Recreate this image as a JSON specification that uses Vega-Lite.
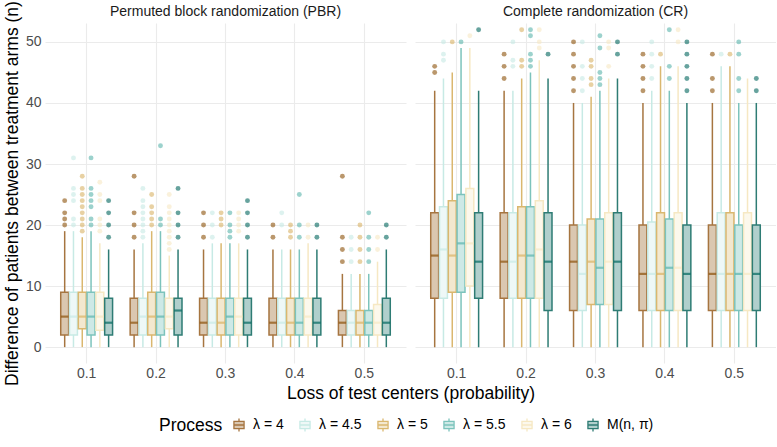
{
  "$schema": "https://vega.github.io/schema/vega-lite/v6.json",
  "background": "white",
  "padding": {"left": 3, "top": 0, "right": 0, "bottom": 0},
  "config": {
    "font": "Liberation Sans",
    "view": {"stroke": null},
    "axis": {"domain": false, "ticks": false, "labelColor": "#4d4d4d", "labelFontSize": 14, "titleFontSize": 17.5, "titleFontWeight": "normal", "titleColor": "#000000", "gridColor": "#ebebeb"},
    "header": {"labelFontSize": 14, "labelColor": "#1a1a1a", "titleFontSize": 17.5, "titleFontWeight": "normal", "titleColor": "#000000"},
    "facet": {"spacing": 9},
    "legend": {"titleFontSize": 17.5, "titleFontWeight": "normal", "titleColor": "#000000", "labelFontSize": 14, "labelColor": "#000000"}
  },
  "data": {"values": [
    {"d":"PBR","p":"0.1","g":"λ = 4","lo":0,"q1":2,"m":5,"q3":9,"hi":19},
    {"d":"PBR","p":"0.1","g":"λ = 4.5","lo":0,"q1":2,"m":5,"q3":9,"hi":19},
    {"d":"PBR","p":"0.1","g":"λ = 5","lo":0,"q1":3,"m":5,"q3":9,"hi":18},
    {"d":"PBR","p":"0.1","g":"λ = 5.5","lo":0,"q1":2,"m":5,"q3":9,"hi":19},
    {"d":"PBR","p":"0.1","g":"λ = 6","lo":0,"q1":2.75,"m":5,"q3":9,"hi":17},
    {"d":"PBR","p":"0.1","g":"M(n, π)","lo":0,"q1":2,"m":4,"q3":8,"hi":16},
    {"d":"PBR","p":"0.2","g":"λ = 4","lo":0,"q1":2,"m":4,"q3":8,"hi":16},
    {"d":"PBR","p":"0.2","g":"λ = 4.5","lo":0,"q1":2,"m":5,"q3":8,"hi":17},
    {"d":"PBR","p":"0.2","g":"λ = 5","lo":0,"q1":2,"m":5,"q3":9,"hi":19},
    {"d":"PBR","p":"0.2","g":"λ = 5.5","lo":0,"q1":2,"m":5,"q3":9,"hi":19},
    {"d":"PBR","p":"0.2","g":"λ = 6","lo":0,"q1":3,"m":5,"q3":8,"hi":15},
    {"d":"PBR","p":"0.2","g":"M(n, π)","lo":0,"q1":2,"m":6,"q3":8,"hi":16},
    {"d":"PBR","p":"0.3","g":"λ = 4","lo":0,"q1":2,"m":4,"q3":8,"hi":16},
    {"d":"PBR","p":"0.3","g":"λ = 4.5","lo":0,"q1":2,"m":4,"q3":8,"hi":17},
    {"d":"PBR","p":"0.3","g":"λ = 5","lo":0,"q1":2,"m":4,"q3":8,"hi":17},
    {"d":"PBR","p":"0.3","g":"λ = 5.5","lo":0,"q1":2,"m":5,"q3":8,"hi":17},
    {"d":"PBR","p":"0.3","g":"λ = 6","lo":0,"q1":2,"m":5,"q3":8,"hi":17},
    {"d":"PBR","p":"0.3","g":"M(n, π)","lo":0,"q1":2,"m":4,"q3":8,"hi":16},
    {"d":"PBR","p":"0.4","g":"λ = 4","lo":0,"q1":2,"m":4,"q3":8,"hi":16},
    {"d":"PBR","p":"0.4","g":"λ = 4.5","lo":0,"q1":2,"m":4,"q3":8,"hi":16},
    {"d":"PBR","p":"0.4","g":"λ = 5","lo":0,"q1":2,"m":4,"q3":8,"hi":16},
    {"d":"PBR","p":"0.4","g":"λ = 5.5","lo":0,"q1":2,"m":4,"q3":8,"hi":16},
    {"d":"PBR","p":"0.4","g":"λ = 6","lo":0,"q1":2,"m":5,"q3":8,"hi":17},
    {"d":"PBR","p":"0.4","g":"M(n, π)","lo":0,"q1":2,"m":4,"q3":8,"hi":16},
    {"d":"PBR","p":"0.5","g":"λ = 4","lo":0,"q1":2,"m":4,"q3":6,"hi":12},
    {"d":"PBR","p":"0.5","g":"λ = 4.5","lo":0,"q1":2,"m":4,"q3":6,"hi":12},
    {"d":"PBR","p":"0.5","g":"λ = 5","lo":0,"q1":2,"m":4,"q3":6,"hi":12},
    {"d":"PBR","p":"0.5","g":"λ = 5.5","lo":0,"q1":2,"m":4,"q3":6,"hi":12},
    {"d":"PBR","p":"0.5","g":"λ = 6","lo":0,"q1":2,"m":4,"q3":7,"hi":14},
    {"d":"PBR","p":"0.5","g":"M(n, π)","lo":0,"q1":2,"m":4,"q3":8,"hi":16},
    {"d":"CR","p":"0.1","g":"λ = 4","lo":0,"q1":8,"m":15,"q3":22,"hi":42},
    {"d":"CR","p":"0.1","g":"λ = 4.5","lo":0,"q1":8,"m":16,"q3":23,"hi":44},
    {"d":"CR","p":"0.1","g":"λ = 5","lo":0,"q1":9,"m":15,"q3":24,"hi":45},
    {"d":"CR","p":"0.1","g":"λ = 5.5","lo":0,"q1":9,"m":17,"q3":25,"hi":49},
    {"d":"CR","p":"0.1","g":"λ = 6","lo":0,"q1":10,"m":17,"q3":26,"hi":49},
    {"d":"CR","p":"0.1","g":"M(n, π)","lo":0,"q1":8,"m":14,"q3":22,"hi":42},
    {"d":"CR","p":"0.2","g":"λ = 4","lo":0,"q1":8,"m":14,"q3":22,"hi":42},
    {"d":"CR","p":"0.2","g":"λ = 4.5","lo":0,"q1":8,"m":14,"q3":22,"hi":42},
    {"d":"CR","p":"0.2","g":"λ = 5","lo":0,"q1":8,"m":15,"q3":23,"hi":44},
    {"d":"CR","p":"0.2","g":"λ = 5.5","lo":0,"q1":8,"m":15,"q3":23,"hi":45},
    {"d":"CR","p":"0.2","g":"λ = 6","lo":0,"q1":8,"m":16,"q3":24,"hi":47},
    {"d":"CR","p":"0.2","g":"M(n, π)","lo":0,"q1":6,"m":14,"q3":22,"hi":44},
    {"d":"CR","p":"0.3","g":"λ = 4","lo":0,"q1":6,"m":14,"q3":20,"hi":40},
    {"d":"CR","p":"0.3","g":"λ = 4.5","lo":0,"q1":6,"m":12,"q3":20,"hi":40},
    {"d":"CR","p":"0.3","g":"λ = 5","lo":0,"q1":7,"m":14,"q3":21,"hi":41},
    {"d":"CR","p":"0.3","g":"λ = 5.5","lo":0,"q1":7,"m":13,"q3":21,"hi":42},
    {"d":"CR","p":"0.3","g":"λ = 6","lo":0,"q1":7,"m":14,"q3":22,"hi":44},
    {"d":"CR","p":"0.3","g":"M(n, π)","lo":0,"q1":6,"m":14,"q3":22,"hi":44},
    {"d":"CR","p":"0.4","g":"λ = 4","lo":0,"q1":6,"m":12,"q3":20,"hi":40},
    {"d":"CR","p":"0.4","g":"λ = 4.5","lo":0,"q1":6,"m":12,"q3":20.5,"hi":42},
    {"d":"CR","p":"0.4","g":"λ = 5","lo":0,"q1":6,"m":12,"q3":22,"hi":46},
    {"d":"CR","p":"0.4","g":"λ = 5.5","lo":0,"q1":6,"m":13,"q3":21,"hi":42},
    {"d":"CR","p":"0.4","g":"λ = 6","lo":0,"q1":6,"m":13,"q3":22,"hi":46},
    {"d":"CR","p":"0.4","g":"M(n, π)","lo":0,"q1":6,"m":12,"q3":20,"hi":40},
    {"d":"CR","p":"0.5","g":"λ = 4","lo":0,"q1":6,"m":12,"q3":20,"hi":40},
    {"d":"CR","p":"0.5","g":"λ = 4.5","lo":0,"q1":6,"m":12,"q3":22,"hi":46},
    {"d":"CR","p":"0.5","g":"λ = 5","lo":0,"q1":6,"m":12,"q3":22,"hi":46},
    {"d":"CR","p":"0.5","g":"λ = 5.5","lo":0,"q1":6,"m":12,"q3":20,"hi":40},
    {"d":"CR","p":"0.5","g":"λ = 6","lo":0,"q1":6,"m":12,"q3":22,"hi":44},
    {"d":"CR","p":"0.5","g":"M(n, π)","lo":0,"q1":6,"m":12,"q3":20,"hi":40},

    {"d":"PBR","p":"0.1","g":"λ = 4","o":20},{"d":"PBR","p":"0.1","g":"λ = 4","o":21},{"d":"PBR","p":"0.1","g":"λ = 4","o":22},{"d":"PBR","p":"0.1","g":"λ = 4","o":24},
    {"d":"PBR","p":"0.1","g":"λ = 4.5","o":20},{"d":"PBR","p":"0.1","g":"λ = 4.5","o":21},{"d":"PBR","p":"0.1","g":"λ = 4.5","o":24},{"d":"PBR","p":"0.1","g":"λ = 4.5","o":25},{"d":"PBR","p":"0.1","g":"λ = 4.5","o":26},{"d":"PBR","p":"0.1","g":"λ = 4.5","o":31},
    {"d":"PBR","p":"0.1","g":"λ = 5","o":19},{"d":"PBR","p":"0.1","g":"λ = 5","o":20},{"d":"PBR","p":"0.1","g":"λ = 5","o":21},{"d":"PBR","p":"0.1","g":"λ = 5","o":22},{"d":"PBR","p":"0.1","g":"λ = 5","o":23},{"d":"PBR","p":"0.1","g":"λ = 5","o":24},{"d":"PBR","p":"0.1","g":"λ = 5","o":25},{"d":"PBR","p":"0.1","g":"λ = 5","o":26},{"d":"PBR","p":"0.1","g":"λ = 5","o":28},
    {"d":"PBR","p":"0.1","g":"λ = 5.5","o":20},{"d":"PBR","p":"0.1","g":"λ = 5.5","o":21},{"d":"PBR","p":"0.1","g":"λ = 5.5","o":23},{"d":"PBR","p":"0.1","g":"λ = 5.5","o":24},{"d":"PBR","p":"0.1","g":"λ = 5.5","o":25},{"d":"PBR","p":"0.1","g":"λ = 5.5","o":26},{"d":"PBR","p":"0.1","g":"λ = 5.5","o":31},
    {"d":"PBR","p":"0.1","g":"λ = 6","o":19},{"d":"PBR","p":"0.1","g":"λ = 6","o":20},{"d":"PBR","p":"0.1","g":"λ = 6","o":21},{"d":"PBR","p":"0.1","g":"λ = 6","o":24},{"d":"PBR","p":"0.1","g":"λ = 6","o":25},{"d":"PBR","p":"0.1","g":"λ = 6","o":27},
    {"d":"PBR","p":"0.1","g":"M(n, π)","o":18},{"d":"PBR","p":"0.1","g":"M(n, π)","o":20},{"d":"PBR","p":"0.1","g":"M(n, π)","o":22},{"d":"PBR","p":"0.1","g":"M(n, π)","o":24},
    {"d":"PBR","p":"0.2","g":"λ = 4","o":18},{"d":"PBR","p":"0.2","g":"λ = 4","o":20},{"d":"PBR","p":"0.2","g":"λ = 4","o":22},{"d":"PBR","p":"0.2","g":"λ = 4","o":28},
    {"d":"PBR","p":"0.2","g":"λ = 4.5","o":18},{"d":"PBR","p":"0.2","g":"λ = 4.5","o":19},{"d":"PBR","p":"0.2","g":"λ = 4.5","o":20},{"d":"PBR","p":"0.2","g":"λ = 4.5","o":21},{"d":"PBR","p":"0.2","g":"λ = 4.5","o":22},{"d":"PBR","p":"0.2","g":"λ = 4.5","o":23},{"d":"PBR","p":"0.2","g":"λ = 4.5","o":24},{"d":"PBR","p":"0.2","g":"λ = 4.5","o":26},
    {"d":"PBR","p":"0.2","g":"λ = 5","o":20},{"d":"PBR","p":"0.2","g":"λ = 5","o":21},{"d":"PBR","p":"0.2","g":"λ = 5","o":22},{"d":"PBR","p":"0.2","g":"λ = 5","o":23},{"d":"PBR","p":"0.2","g":"λ = 5","o":25},
    {"d":"PBR","p":"0.2","g":"λ = 5.5","o":20},{"d":"PBR","p":"0.2","g":"λ = 5.5","o":21},{"d":"PBR","p":"0.2","g":"λ = 5.5","o":33},
    {"d":"PBR","p":"0.2","g":"λ = 6","o":16},{"d":"PBR","p":"0.2","g":"λ = 6","o":17},{"d":"PBR","p":"0.2","g":"λ = 6","o":18},{"d":"PBR","p":"0.2","g":"λ = 6","o":19},{"d":"PBR","p":"0.2","g":"λ = 6","o":20},{"d":"PBR","p":"0.2","g":"λ = 6","o":21},{"d":"PBR","p":"0.2","g":"λ = 6","o":22},{"d":"PBR","p":"0.2","g":"λ = 6","o":23},{"d":"PBR","p":"0.2","g":"λ = 6","o":25},
    {"d":"PBR","p":"0.2","g":"M(n, π)","o":18},{"d":"PBR","p":"0.2","g":"M(n, π)","o":20},{"d":"PBR","p":"0.2","g":"M(n, π)","o":22},{"d":"PBR","p":"0.2","g":"M(n, π)","o":26},
    {"d":"PBR","p":"0.3","g":"λ = 4","o":18},{"d":"PBR","p":"0.3","g":"λ = 4","o":20},{"d":"PBR","p":"0.3","g":"λ = 4","o":22},
    {"d":"PBR","p":"0.3","g":"λ = 4.5","o":18},{"d":"PBR","p":"0.3","g":"λ = 4.5","o":20},{"d":"PBR","p":"0.3","g":"λ = 4.5","o":22},
    {"d":"PBR","p":"0.3","g":"λ = 5","o":20},{"d":"PBR","p":"0.3","g":"λ = 5","o":21},{"d":"PBR","p":"0.3","g":"λ = 5","o":22},
    {"d":"PBR","p":"0.3","g":"λ = 5.5","o":18},{"d":"PBR","p":"0.3","g":"λ = 5.5","o":19},{"d":"PBR","p":"0.3","g":"λ = 5.5","o":20},{"d":"PBR","p":"0.3","g":"λ = 5.5","o":22},
    {"d":"PBR","p":"0.3","g":"λ = 6","o":19},{"d":"PBR","p":"0.3","g":"λ = 6","o":20},{"d":"PBR","p":"0.3","g":"λ = 6","o":21},{"d":"PBR","p":"0.3","g":"λ = 6","o":22},
    {"d":"PBR","p":"0.3","g":"M(n, π)","o":18},{"d":"PBR","p":"0.3","g":"M(n, π)","o":20},{"d":"PBR","p":"0.3","g":"M(n, π)","o":22},{"d":"PBR","p":"0.3","g":"M(n, π)","o":24},
    {"d":"PBR","p":"0.4","g":"λ = 4","o":18},{"d":"PBR","p":"0.4","g":"λ = 4","o":20},
    {"d":"PBR","p":"0.4","g":"λ = 4.5","o":20},{"d":"PBR","p":"0.4","g":"λ = 4.5","o":22},
    {"d":"PBR","p":"0.4","g":"λ = 5","o":18},{"d":"PBR","p":"0.4","g":"λ = 5","o":19},{"d":"PBR","p":"0.4","g":"λ = 5","o":20},
    {"d":"PBR","p":"0.4","g":"λ = 5.5","o":18},{"d":"PBR","p":"0.4","g":"λ = 5.5","o":20},{"d":"PBR","p":"0.4","g":"λ = 5.5","o":25},
    {"d":"PBR","p":"0.4","g":"λ = 6","o":18},{"d":"PBR","p":"0.4","g":"λ = 6","o":20},
    {"d":"PBR","p":"0.4","g":"M(n, π)","o":18},{"d":"PBR","p":"0.4","g":"M(n, π)","o":20},
    {"d":"PBR","p":"0.5","g":"λ = 4","o":14},{"d":"PBR","p":"0.5","g":"λ = 4","o":16},{"d":"PBR","p":"0.5","g":"λ = 4","o":18},{"d":"PBR","p":"0.5","g":"λ = 4","o":28},
    {"d":"PBR","p":"0.5","g":"λ = 4.5","o":14},{"d":"PBR","p":"0.5","g":"λ = 4.5","o":16},{"d":"PBR","p":"0.5","g":"λ = 4.5","o":18},
    {"d":"PBR","p":"0.5","g":"λ = 5","o":14},{"d":"PBR","p":"0.5","g":"λ = 5","o":16},{"d":"PBR","p":"0.5","g":"λ = 5","o":18},{"d":"PBR","p":"0.5","g":"λ = 5","o":20},
    {"d":"PBR","p":"0.5","g":"λ = 5.5","o":14},{"d":"PBR","p":"0.5","g":"λ = 5.5","o":16},{"d":"PBR","p":"0.5","g":"λ = 5.5","o":18},{"d":"PBR","p":"0.5","g":"λ = 5.5","o":22},
    {"d":"PBR","p":"0.5","g":"λ = 6","o":16},{"d":"PBR","p":"0.5","g":"λ = 6","o":18},
    {"d":"PBR","p":"0.5","g":"M(n, π)","o":18},{"d":"PBR","p":"0.5","g":"M(n, π)","o":20},

    {"d":"CR","p":"0.1","g":"λ = 4","o":45},{"d":"CR","p":"0.1","g":"λ = 4","o":46},
    {"d":"CR","p":"0.1","g":"λ = 4.5","o":47},{"d":"CR","p":"0.1","g":"λ = 4.5","o":48},{"d":"CR","p":"0.1","g":"λ = 4.5","o":50},
    {"d":"CR","p":"0.1","g":"λ = 5","o":50},
    {"d":"CR","p":"0.1","g":"λ = 5.5","o":50},
    {"d":"CR","p":"0.1","g":"λ = 6","o":51},
    {"d":"CR","p":"0.1","g":"M(n, π)","o":52},
    {"d":"CR","p":"0.2","g":"λ = 4","o":44},{"d":"CR","p":"0.2","g":"λ = 4","o":46},{"d":"CR","p":"0.2","g":"λ = 4","o":48},
    {"d":"CR","p":"0.2","g":"λ = 4.5","o":46},{"d":"CR","p":"0.2","g":"λ = 4.5","o":47},{"d":"CR","p":"0.2","g":"λ = 4.5","o":50},
    {"d":"CR","p":"0.2","g":"λ = 5","o":46},{"d":"CR","p":"0.2","g":"λ = 5","o":47},{"d":"CR","p":"0.2","g":"λ = 5","o":52},
    {"d":"CR","p":"0.2","g":"λ = 5.5","o":46},{"d":"CR","p":"0.2","g":"λ = 5.5","o":47},{"d":"CR","p":"0.2","g":"λ = 5.5","o":48},{"d":"CR","p":"0.2","g":"λ = 5.5","o":51},{"d":"CR","p":"0.2","g":"λ = 5.5","o":52},
    {"d":"CR","p":"0.2","g":"λ = 6","o":49},{"d":"CR","p":"0.2","g":"λ = 6","o":50},{"d":"CR","p":"0.2","g":"λ = 6","o":52},
    {"d":"CR","p":"0.2","g":"M(n, π)","o":48},
    {"d":"CR","p":"0.3","g":"λ = 4","o":42},{"d":"CR","p":"0.3","g":"λ = 4","o":44},{"d":"CR","p":"0.3","g":"λ = 4","o":46},{"d":"CR","p":"0.3","g":"λ = 4","o":48},{"d":"CR","p":"0.3","g":"λ = 4","o":50},
    {"d":"CR","p":"0.3","g":"λ = 4.5","o":42},{"d":"CR","p":"0.3","g":"λ = 4.5","o":44},{"d":"CR","p":"0.3","g":"λ = 4.5","o":46},{"d":"CR","p":"0.3","g":"λ = 4.5","o":50},
    {"d":"CR","p":"0.3","g":"λ = 5","o":43},{"d":"CR","p":"0.3","g":"λ = 5","o":44},{"d":"CR","p":"0.3","g":"λ = 5","o":46},{"d":"CR","p":"0.3","g":"λ = 5","o":47},
    {"d":"CR","p":"0.3","g":"λ = 5.5","o":43},{"d":"CR","p":"0.3","g":"λ = 5.5","o":44},{"d":"CR","p":"0.3","g":"λ = 5.5","o":45},{"d":"CR","p":"0.3","g":"λ = 5.5","o":49},{"d":"CR","p":"0.3","g":"λ = 5.5","o":51},
    {"d":"CR","p":"0.3","g":"λ = 6","o":46},{"d":"CR","p":"0.3","g":"λ = 6","o":49},{"d":"CR","p":"0.3","g":"λ = 6","o":50},
    {"d":"CR","p":"0.3","g":"M(n, π)","o":48},{"d":"CR","p":"0.3","g":"M(n, π)","o":50},
    {"d":"CR","p":"0.4","g":"λ = 4","o":42},{"d":"CR","p":"0.4","g":"λ = 4","o":44},{"d":"CR","p":"0.4","g":"λ = 4","o":46},{"d":"CR","p":"0.4","g":"λ = 4","o":48},
    {"d":"CR","p":"0.4","g":"λ = 4.5","o":44},{"d":"CR","p":"0.4","g":"λ = 4.5","o":46},{"d":"CR","p":"0.4","g":"λ = 4.5","o":48},{"d":"CR","p":"0.4","g":"λ = 4.5","o":50},
    {"d":"CR","p":"0.4","g":"λ = 5","o":48},
    {"d":"CR","p":"0.4","g":"λ = 5.5","o":44},{"d":"CR","p":"0.4","g":"λ = 5.5","o":46},{"d":"CR","p":"0.4","g":"λ = 5.5","o":52},
    {"d":"CR","p":"0.4","g":"λ = 6","o":50},{"d":"CR","p":"0.4","g":"λ = 6","o":52},
    {"d":"CR","p":"0.4","g":"M(n, π)","o":42},{"d":"CR","p":"0.4","g":"M(n, π)","o":44},{"d":"CR","p":"0.4","g":"M(n, π)","o":46},{"d":"CR","p":"0.4","g":"M(n, π)","o":48},{"d":"CR","p":"0.4","g":"M(n, π)","o":50},
    {"d":"CR","p":"0.5","g":"λ = 4","o":42},{"d":"CR","p":"0.5","g":"λ = 4","o":44},{"d":"CR","p":"0.5","g":"λ = 4","o":48},
    {"d":"CR","p":"0.5","g":"λ = 4.5","o":48},
    {"d":"CR","p":"0.5","g":"λ = 5","o":48},
    {"d":"CR","p":"0.5","g":"λ = 5.5","o":42},{"d":"CR","p":"0.5","g":"λ = 5.5","o":44},{"d":"CR","p":"0.5","g":"λ = 5.5","o":48},{"d":"CR","p":"0.5","g":"λ = 5.5","o":50},
    {"d":"CR","p":"0.5","g":"M(n, π)","o":42},{"d":"CR","p":"0.5","g":"M(n, π)","o":44}
  ]},
  "facet": {
    "column": {
      "field": "d", "type": "nominal", "sort": ["PBR", "CR"], "title": "Loss of test centers (probability)",
      "header": {"labelExpr": "datum.value == 'PBR' ? 'Permuted block randomization (PBR)' : 'Complete randomization (CR)'", "labelPadding": 4, "titleOrient": "bottom", "titlePadding": -5}
    }
  },
  "spec": {
    "width": 361,
    "height": 340,
    "encoding": {
      "x": {"field": "p", "type": "nominal", "title": null,
        "scale": {"paddingInner": 0, "paddingOuter": 0.1},
        "axis": {"labelAngle": 0, "bandPosition": 0.5, "grid": true, "gridWidth": 1.1, "labelPadding": 3}},
      "xOffset": {"field": "g", "type": "nominal",
        "scale": {"domain": ["λ = 4", "λ = 4.5", "λ = 5", "λ = 5.5", "λ = 6", "M(n, π)"], "paddingInner": 0.1, "paddingOuter": 1.05}}
    },
    "layer": [
      {
        "transform": [{"filter": "isValid(datum.m)"}],
        "mark": {"type": "rule", "strokeWidth": 1.5},
        "encoding": {
          "y": {"field": "lo", "type": "quantitative", "title": "Difference of patients between treatment arms (n)",
            "scale": {"domain": [-2.6, 53.1], "nice": false, "zero": false},
            "axis": {"values": [0, 5, 10, 15, 20, 25, 30, 35, 40, 45, 50], "labelExpr": "datum.value % 10 === 0 ? datum.label : ''",
              "gridWidth": {"condition": {"test": "datum.value % 10 === 0", "value": 1.1}, "value": 0.55},
              "labelPadding": 4, "titlePadding": 4}},
          "y2": {"field": "hi"},
          "stroke": {"field": "g", "type": "nominal", "title": "Process",
            "scale": {"domain": ["λ = 4", "λ = 4.5", "λ = 5", "λ = 5.5", "λ = 6", "M(n, π)"], "range": ["#a67540", "#c7eae5", "#dab76f", "#7cc3bc", "#f6e8c3", "#2e7c74"]},
            "legend": {"orient": "none", "legendX": 114, "legendY": 394, "direction": "horizontal", "titleOrient": "left", "titlePadding": 8, "gridAlign": "none", "symbolType": "M-0.7,-0.5H0.7V0.5H-0.7Z M-0.7,0H0.7 M0,-0.5V-0.9 M0,0.5V0.9", "symbolSize": 210, "symbolStrokeWidth": 1.3, "columnPadding": 13, "labelOffset": 6}}
        }
      },
      {
        "transform": [{"filter": "isValid(datum.m)"}],
        "mark": {"type": "bar", "strokeWidth": 1.5},
        "encoding": {
          "y": {"field": "q1", "type": "quantitative", "title": "Difference of patients between treatment arms (n)"},
          "y2": {"field": "q3"},
          "fill": {"field": "g", "type": "nominal", "title": "Process",
            "scale": {"domain": ["λ = 4", "λ = 4.5", "λ = 5", "λ = 5.5", "λ = 6", "M(n, π)"], "range": ["#dac7b0", "#eef8f7", "#f3e8cf", "#cde9e6", "#fcf8ec", "#b0cfcc"]},
            "legend": {"orient": "none", "legendX": 114, "legendY": 394, "direction": "horizontal", "titleOrient": "left", "titlePadding": 8, "gridAlign": "none", "symbolType": "M-0.7,-0.5H0.7V0.5H-0.7Z M-0.7,0H0.7 M0,-0.5V-0.9 M0,0.5V0.9", "symbolSize": 210, "symbolStrokeWidth": 1.3, "columnPadding": 13, "labelOffset": 6}},
          "stroke": {"field": "g", "type": "nominal", "title": "Process"}
        }
      },
      {
        "transform": [{"filter": "isValid(datum.m)"}],
        "mark": {"type": "tick", "thickness": 2.2, "size": 7.6},
        "encoding": {
          "y": {"field": "m", "type": "quantitative", "title": "Difference of patients between treatment arms (n)"},
          "color": {"field": "g", "type": "nominal", "legend": null,
            "scale": {"domain": ["λ = 4", "λ = 4.5", "λ = 5", "λ = 5.5", "λ = 6", "M(n, π)"], "range": ["#8c510a", "#c7eae5", "#d8b365", "#5ab4ac", "#f6e8c3", "#01665e"]}}
        }
      },
      {
        "transform": [{"filter": "isValid(datum.o)"}],
        "mark": {"type": "circle", "size": 24, "opacity": 0.6},
        "encoding": {
          "y": {"field": "o", "type": "quantitative", "title": "Difference of patients between treatment arms (n)"},
          "color": {"field": "g", "type": "nominal", "legend": null}
        }
      }
    ]
  }
}
